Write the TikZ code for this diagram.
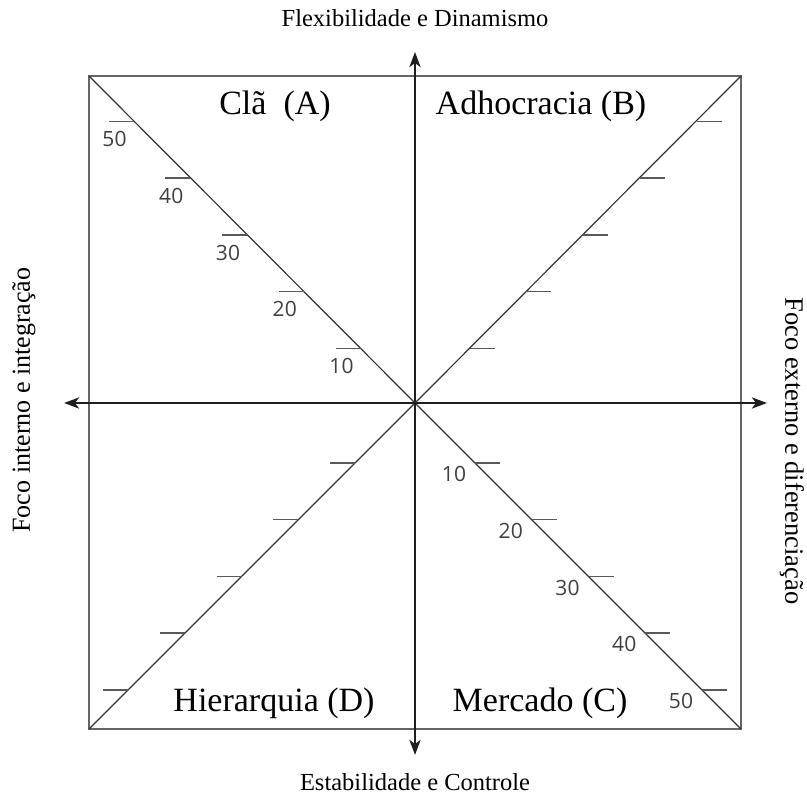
\documentclass[tikz,border=0pt]{standalone}
\usepackage{fontspec}
\setmainfont{Liberation Serif}
\newfontfamily\tickfont{Open Sans}
\usetikzlibrary{arrows.meta}
\begin{document}
\begin{tikzpicture}[x=1pt,y=-1pt,
  frame/.style={draw=black!60, line width=1.8pt},
  diag/.style={draw=black!80, line width=1.2pt},
  tickmark/.style={draw=black!65, line width=1.5pt},
  axis/.style={draw=black!88, line width=2.8pt,
    {Stealth[length=15pt,width=11pt,inset=4pt]}-{Stealth[length=15pt,width=11pt,inset=4pt]}},
  quad/.style={font=\fontsize{34}{40}\selectfont, anchor=base, inner sep=0pt},
  axlab/.style={font=\fontsize{24.5}{28}\selectfont, inner sep=0pt},
  num/.style={font=\tickfont\fontsize{21}{24}\selectfont, text=black!75, inner sep=0pt}
]
\useasboundingbox (0,0) rectangle (807,799);
% frame and centre
\coordinate (TLc) at (89,76);
\coordinate (TRc) at (741,76);
\coordinate (BRc) at (741,729);
\coordinate (BLc) at (89,729);
\coordinate (O) at (415,403);
\draw[frame] (TLc) -- (TRc) -- (BRc) -- (BLc) -- cycle;
% diagonals
\draw[diag] (TLc) -- (O) -- (BRc);
\draw[diag] (BLc) -- (O) -- (TRc);
% ticks upper half
\foreach \d [count=\i] in {54.5,111.25,168,224.75,281.5} {
  \draw[tickmark] (415-\d,403-\d) -- ++(-25,0);
  \draw[tickmark] (415+\d,403-\d) -- ++(25,0);
  \pgfmathtruncatemacro{\v}{10*\i}
  \node[num] (tl\i) at (396-\d,420.5-\d) {\v};
}
% ticks lower half
\foreach \d [count=\i] in {60,116.75,173.5,230.25,287} {
  \draw[tickmark] (415-\d,403+\d) -- ++(-25,0);
  \draw[tickmark] (415+\d,403+\d) -- ++(25,0);
  \pgfmathtruncatemacro{\v}{10*\i}
  \node[num] (br\i) at (394+\d,414+\d) {\v};
}
% axes
\coordinate (W) at (64,403);
\coordinate (E) at (767,403);
\coordinate (N) at (415,52);
\coordinate (S) at (415,755);
\draw[axis] (W) -- (E);
\draw[axis] (S) -- (N);
% quadrant labels
\node[quad] (A) at (275,115) {Clã\ \ (A)};
\node[quad] (B) at (541,115) {Adhocracia (B)};
\node[quad] (D) at (274,712) {Hierarquia (D)};
\node[quad] (C) at (540,712) {Mercado (C)};
% axis labels
\node[axlab, anchor=base] (top) at (415,27) {Flexibilidade e Dinamismo};
\node[axlab, anchor=base] (bottom) at (415,790) {Estabilidade e Controle};
\node[axlab, rotate=90, font=\fontsize{26}{30}\selectfont] (left) at (24,400) {Foco interno e integração};
\node[axlab, rotate=-90, font=\fontsize{26.5}{30}\selectfont] (right) at (792,451) {Foco externo e diferenciação};
\end{tikzpicture}
\end{document}
